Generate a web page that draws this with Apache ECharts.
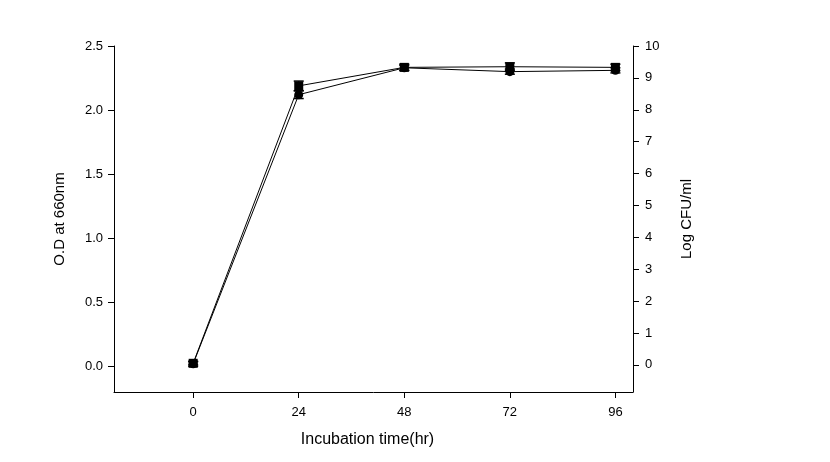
<!DOCTYPE html>
<html><head><meta charset="utf-8">
<script src="https://cdn.jsdelivr.net/npm/echarts@6/dist/echarts.min.js"></script>
<style>html,body{margin:0;padding:0;background:#fff}#c{width:830px;height:462px}</style>
</head><body><div id="c"></div>
<script>
const hours = [0, 24, 48, 72, 96];
const xTicks = [0, 24, 48, 72, 96];
const odTicks = [0, 0.5, 1.0, 1.5, 2.0, 2.5];
const cfuTicks = [0,1,2,3,4,5,6,7,8,9,10];
const odValues = [0.02, 2.12, 2.33, 2.30, 2.31];
const odErr = [0.02, 0.03, 0.02, 0.02, 0.02];
const cfuValues = [0.05, 8.75, 9.33, 9.35, 9.33];
const cfuErr = [0.05, 0.15, 0.1, 0.12, 0.1];

const font = '"Liberation Sans", Arial, sans-serif';
const chart = echarts.init(document.getElementById('c'));
function errSeries(vals, errs, yIdx) {
  return {
    type: 'custom', yAxisIndex: yIdx, z: 1, silent: true,
    data: hours.map((h, i) => [h, vals[i] - errs[i], vals[i] + errs[i]]),
    renderItem: function (params, api) {
      const lo = api.coord([api.value(0), api.value(1)]);
      const hi = api.coord([api.value(0), api.value(2)]);
      const w = 5;
      return { type: 'group', children: [
        { type: 'line', shape: { x1: lo[0], y1: lo[1], x2: hi[0], y2: hi[1] }, style: { stroke: '#000', lineWidth: 1 } },
        { type: 'line', shape: { x1: hi[0]-w, y1: hi[1], x2: hi[0]+w, y2: hi[1] }, style: { stroke: '#000', lineWidth: 1.5 } },
        { type: 'line', shape: { x1: lo[0]-w, y1: lo[1], x2: lo[0]+w, y2: lo[1] }, style: { stroke: '#000', lineWidth: 1.5 } }
      ]};
    }
  };
}
chart.setOption({
  animation: false,
  backgroundColor: '#fff',
  textStyle: { fontFamily: font },
  grid: { left: 114, right: 197, top: 46, bottom: 70 },
  xAxis: {
    type: 'value', min: -18, max: 100,
    name: 'Incubation time(hr)', nameLocation: 'middle', nameGap: 40,
    nameTextStyle: { fontSize: 16, color: '#000', fontFamily: font, padding: [0, 12, 0, 0] },
    axisLine: { onZero: false, lineStyle: { color: '#000', width: 1 } },
    axisTick: { show: true, length: 6, customValues: xTicks, lineStyle: { color: '#000' } },
    axisLabel: { customValues: xTicks, margin: 14, fontSize: 13, color: '#000', fontFamily: font },
    splitLine: { show: false }
  },
  yAxis: [{
    type: 'value', min: -0.2, max: 2.5, position: 'left',
    name: 'O.D at 660nm', nameLocation: 'middle', nameGap: 47, nameRotate: 90,
    nameTextStyle: { fontSize: 15, color: '#000', fontFamily: font },
    axisLine: { show: true, onZero: false, lineStyle: { color: '#000', width: 1 } },
    axisTick: { show: true, length: 6, customValues: odTicks, lineStyle: { color: '#000' } },
    axisLabel: { customValues: odTicks, margin: 11, fontSize: 13, color: '#000', fontFamily: font,
      formatter: v => v.toFixed(1) },
    splitLine: { show: false }
  }, {
    type: 'value', min: -0.85, max: 10, position: 'right',
    name: 'Log CFU/ml', nameLocation: 'middle', nameGap: 46, nameRotate: 90,
    nameTextStyle: { fontSize: 15, color: '#000', fontFamily: font },
    axisLine: { show: true, onZero: false, lineStyle: { color: '#000', width: 1 } },
    axisTick: { show: true, length: 6, customValues: cfuTicks, lineStyle: { color: '#000' } },
    axisLabel: { customValues: cfuTicks, margin: 12, fontSize: 13, color: '#000', fontFamily: font },
    splitLine: { show: false }
  }],
  series: [
    errSeries(odValues, odErr, 0),
    errSeries(cfuValues, cfuErr, 1),
    {
      type: 'line', yAxisIndex: 0, z: 3,
      data: hours.map((h, i) => [h, odValues[i]]),
      symbol: 'circle', symbolSize: 9,
      lineStyle: { color: '#000', width: 1 },
      itemStyle: { color: '#000' }
    },
    {
      type: 'line', yAxisIndex: 1, z: 3,
      data: hours.map((h, i) => [h, cfuValues[i]]),
      symbol: 'rect', symbolSize: 9,
      lineStyle: { color: '#000', width: 1 },
      itemStyle: { color: '#000' }
    }
  ]
});
</script></body></html>
